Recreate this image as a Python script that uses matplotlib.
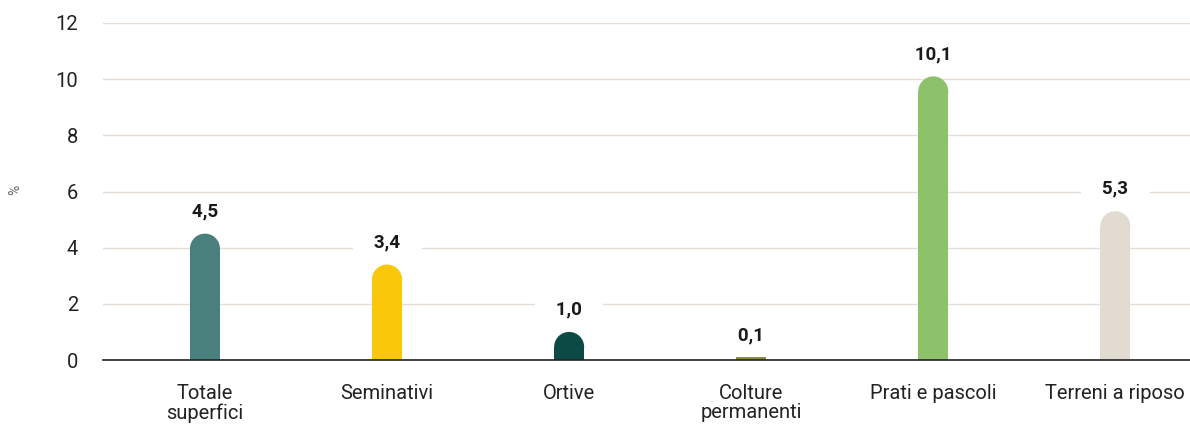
import matplotlib.pyplot as plt
from matplotlib.patches import Ellipse
import numpy as np

categories = ["Totale\nsuperfici", "Seminativi", "Ortive", "Colture\npermanenti",
              "Prati e pascoli", "Terreni a riposo"]
values = [4.5, 3.4, 1.0, 0.1, 10.1, 5.3]
value_labels = ["4,5", "3,4", "1,0", "0,1", "10,1", "5,3"]
colors = ["#497F7D", "#FAC70B", "#0B4A45", "#8A8A40", "#8DC26B", "#E2DBD1"]
yticks = [0, 2, 4, 6, 8, 10, 12]

plt.rcParams['font.family'] = ['Roboto', 'DejaVu Sans']

W, H = 1190, 428
fig = plt.figure(figsize=(W / 100, H / 100), dpi=100)
ax = fig.add_axes([103 / W, 68 / H, 1 - 103 / W, 337 / H])

x = np.arange(len(values))
xmin, xmax = -0.56, 5.41
ymin, ymax = 0, 12
ax.set_xlim(xmin, xmax)
ax.set_ylim(ymin, ymax)

bw = 0.165
# radius of the rounded top in y data units (half bar width in pixels)
px_per_x = (W - 103) / (xmax - xmin)
px_per_y = 337 / (ymax - ymin)
r_px = bw * px_per_x / 2
r_y = r_px / px_per_y

for xi, v, c in zip(x, values, colors):
    if v > r_y:
        ax.bar(xi, v - r_y, width=bw, color=c, zorder=3, linewidth=0)
        ax.add_patch(Ellipse((xi, v - r_y), bw, 2 * r_y, color=c, zorder=3, linewidth=0))
    else:
        ax.bar(xi, v, width=bw, color=c, zorder=3, linewidth=0)

# labels sit under the bars but over the grid, white box hides gridlines
# (spaces widen the box sideways only)
for xi, v, lab in zip(x, values, value_labels):
    ax.annotate("   " + lab + "   ", (xi, v), xytext=(0, 16), textcoords="offset points",
                ha="center", va="center", fontsize=13.5, fontweight="bold",
                color="#1a1a1a", zorder=2.5,
                bbox=dict(boxstyle="square,pad=0.4", fc="white", ec="none"))

ax.set_yticks(yticks)
ax.set_yticklabels([str(t) for t in yticks], fontsize=14.5, color="#222222")
ax.set_xticks(x)
ax.set_xticklabels(categories, fontsize=14.5, color="#222222", linespacing=1.05)
ax.tick_params(axis="both", length=0)
ax.tick_params(axis="y", pad=18)
ax.tick_params(axis="x", pad=17)

ax.grid(axis="y", color="#E6DED6", linewidth=1.0, zorder=0)
for s in ["top", "right", "left"]:
    ax.spines[s].set_visible(False)
ax.spines["bottom"].set_color("#222222")
ax.spines["bottom"].set_linewidth(1.2)
ax.spines["bottom"].set_zorder(5)

fig.text(15 / W, 1 - 190 / H, "%", rotation=90, ha="center", va="center",
         fontsize=10, color="#666666")

fig.savefig("out.png", dpi=100)
